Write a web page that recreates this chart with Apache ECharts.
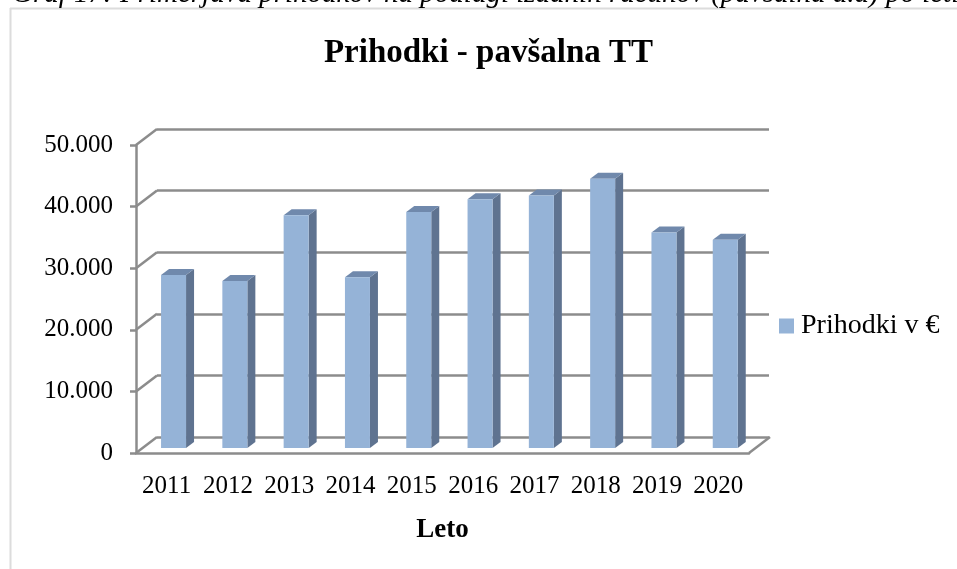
<!DOCTYPE html>
<html>
<head>
<meta charset="utf-8">
<style>
html, body { margin: 0; padding: 0; background: #fff; }
#chart { width: 957px; height: 569px; }
</style>
<script src="https://cdn.jsdelivr.net/npm/echarts@6/dist/echarts.min.js"></script>
</head>
<body>
<div id="chart"></div>
<script>
const years = ["2011", "2012", "2013", "2014", "2015", "2016", "2017", "2018", "2019", "2020"]
const income = [28100, 27100, 37800, 27700, 38300, 40400, 41000, 43700, 35000, 33800]
const ticks = [0, 10000, 20000, 30000, 40000, 50000]

const serif = "Liberation Serif"
const gridColor = "#8c8c8c"

// 3D look of the excel chart: depth of the wall and depth of each bar
const wallDx = 21, wallDy = -16
const barW = 25, barDx = 8, barDy = -6, barLift = -5, barShift = -5.6

function formatTick(v) {
	return v === 0 ? "0" : (v / 1000) + ".000"
}

function renderBar(params, api) {
	let p = api.coord([api.value(0), api.value(1)])
	let base = api.coord([api.value(0), 0])
	let x0 = p[0] + barShift
	let x1 = x0 + barW
	let yTop = p[1] + barLift
	let yBot = base[1] + barLift
	return {
		type: "group",
		children: [
			{type: "polygon", shape: {points: [[x1, yTop], [x1 + barDx, yTop + barDy], [x1 + barDx, yBot + barDy], [x1, yBot]]}, style: {fill: "#5f7390"}},
			{type: "polygon", shape: {points: [[x0, yTop], [x0 + barDx, yTop + barDy], [x1 + barDx, yTop + barDy], [x1, yTop]]}, style: {fill: "#7089ac"}},
			{type: "rect", shape: {x: x0, y: yTop, width: barW, height: yBot - yTop}, style: {fill: "#95b3d7"}}
		]
	}
}

function renderDiagonal(params, api) {
	let y = api.coord([0, api.value(0)])[1]
	let x = params.coordSys.x
	let children = [{type: "line", shape: {x1: x, y1: y, x2: x + wallDx, y2: y + wallDy}, style: {stroke: gridColor, lineWidth: 2.5}}]
	if (api.value(0) === 0) {
		let xr = x + params.coordSys.width
		children.push({type: "line", shape: {x1: xr, y1: y, x2: xr + wallDx, y2: y + wallDy}, style: {stroke: gridColor, lineWidth: 2.5}})
	}
	return {type: "group", children: children}
}

let chart = echarts.init(document.getElementById("chart"), null, {renderer: "canvas"})
let axisCommon = {min: 0, max: 50000, interval: 10000}
let option = {
	animation: false,
	backgroundColor: "#fff",
	title: [
		{
			text: "Prihodki - pavšalna TT",
			left: 483.5,
			top: 32,
			textAlign: "center",
			textStyle: {fontFamily: serif, fontSize: 33, fontWeight: "bold", color: "#000"}
		},
		{
			text: "Graf 17: Primerjava prihodkov na podlagi izdanih računov (pavšalna d.d) po letih",
			left: 7,
			top: -25,
			textStyle: {fontFamily: serif, fontSize: 29, fontStyle: "italic", fontWeight: "normal", color: "#000"}
		}
	],
	legend: {
		data: ["Prihodki v €"],
		left: 774,
		top: 307,
		icon: "rect",
		itemWidth: 15,
		itemHeight: 15,
		itemGap: 0,
		textStyle: {fontFamily: serif, fontSize: 28, color: "#000", padding: [0, 0, 0, 2]}
	},
	grid: [
		{left: 136, top: 145, width: 613, height: 308},
		{left: 157, top: 129, width: 612, height: 308}
	],
	xAxis: [
		{
			type: "category",
			gridIndex: 0,
			data: years,
			name: "Leto",
			nameLocation: "middle",
			nameGap: 64,
			nameTextStyle: {fontFamily: serif, fontSize: 27, fontWeight: "bold", color: "#000"},
			axisLine: {lineStyle: {color: gridColor, width: 2.5}},
			axisTick: {show: false},
			axisLabel: {fontFamily: serif, fontSize: 25, color: "#000", margin: 21, interval: 0}
		},
		{type: "category", gridIndex: 1, data: years, show: false}
	],
	yAxis: [
		Object.assign({
			type: "value",
			gridIndex: 0,
			axisLine: {show: true, lineStyle: {color: gridColor, width: 2.5}},
			axisTick: {show: true, length: 6, lineStyle: {color: gridColor, width: 2.5}},
			axisLabel: {fontFamily: serif, fontSize: 25, color: "#000", margin: 23, padding: [6, 0, 0, 0], formatter: formatTick},
			splitLine: {show: false}
		}, axisCommon),
		Object.assign({
			type: "value",
			gridIndex: 1,
			axisLine: {show: false},
			axisTick: {show: false},
			axisLabel: {show: false},
			splitLine: {show: true, lineStyle: {color: gridColor, width: 2.5}}
		}, axisCommon)
	],
	series: [
		{
			name: "wall",
			type: "custom",
			xAxisIndex: 0,
			yAxisIndex: 0,
			silent: true,
			clip: false,
			data: ticks.map(v => [v]),
			encode: {y: 0},
			renderItem: renderDiagonal
		},
		{
			name: "Prihodki v €",
			type: "custom",
			xAxisIndex: 0,
			yAxisIndex: 0,
			clip: false,
			itemStyle: {color: "#95b3d7"},
			data: income.map((v, i) => [i, v]),
			encode: {x: 0, y: 1},
			renderItem: renderBar
		}
	],
	graphic: [
		{type: "line", silent: true, shape: {x1: 10, y1: 8.5, x2: 957, y2: 8.5}, style: {stroke: "#dcdcdc", lineWidth: 2}},
		{type: "line", silent: true, shape: {x1: 10.5, y1: 8, x2: 10.5, y2: 569}, style: {stroke: "#dcdcdc", lineWidth: 2}}
	]
}
chart.setOption(option)
window.onresize = chart.resize
</script>
</body>
</html>
